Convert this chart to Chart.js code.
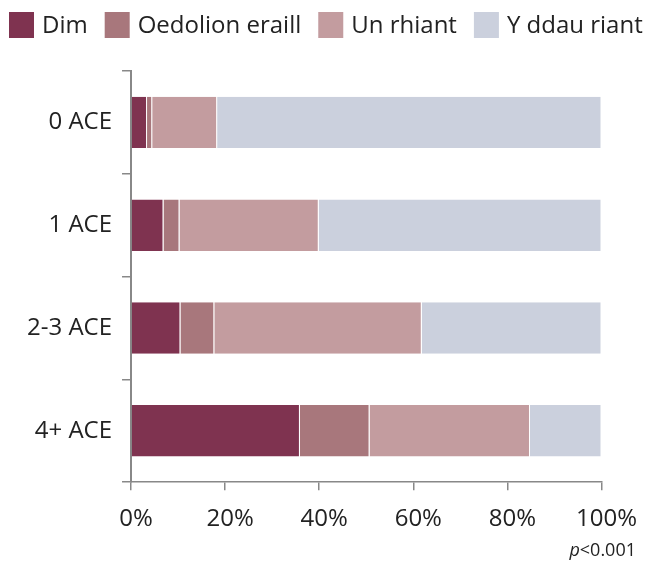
<!DOCTYPE html>
<html>
<head>
<meta charset="utf-8">
<script src="https://cdn.jsdelivr.net/npm/chart.js@4/dist/chart.umd.min.js"></script>
<style>
html,body{margin:0;padding:0;background:#fff;}
#wrap{width:647px;height:563px;}
</style>
</head>
<body>
<div id="wrap"><canvas id="c" width="647" height="563"></canvas></div>
<script>
const categories = ["0 ACE", "1 ACE", "2-3 ACE", "4+ ACE"];
const seriesNames = ["Dim", "Oedolion eraill", "Un rhiant", "Y ddau riant"];
const dim = [3.4, 6.9, 10.5, 35.9];
const oedolion = [1.1, 3.4, 7.2, 14.8];
const unRhiant = [13.8, 29.6, 44.1, 34.1];
const ddauRiant = [81.7, 60.1, 38.2, 15.2];
const xTicks = [0, 20, 40, 60, 80, 100];
const colors = ["#7f3350", "#a8777c", "#c39c9f", "#cbd0dd"];
const pNote = "<0.001";

const FONT = "'Open Sans', 'Noto Sans', sans-serif";
const values = [dim, oedolion, unRhiant, ddauRiant];

const legendPlugin = {
  id: 'customLegend',
  afterDraw(chart) {
    const ctx = chart.ctx;
    ctx.save();
    ctx.font = "24px " + FONT;
    ctx.textBaseline = 'middle';
    const box = 25, boxH = 26, gapText = 8, gapItem = 17;
    let x = 9;
    const top = 12;
    seriesNames.forEach((name, i) => {
      ctx.fillStyle = colors[i];
      ctx.fillRect(x, top, box, boxH);
      x += box + gapText;
      ctx.fillStyle = '#222';
      ctx.fillText(name, x, top + boxH / 2 + 1);
      x += ctx.measureText(name).width + gapItem;
    });
    ctx.restore();
  }
};

const pPlugin = {
  id: 'pnote',
  afterDraw(chart) {
    const ctx = chart.ctx;
    ctx.save();
    ctx.fillStyle = '#222';
    ctx.textBaseline = 'alphabetic';
    ctx.font = "18px " + FONT;
    const w2 = ctx.measureText(pNote).width;
    ctx.font = "italic 18px " + FONT;
    const w1 = ctx.measureText('p').width;
    const right = 636;
    const y = 556;
    ctx.fillText('p', right - w2 - w1, y);
    ctx.font = "18px " + FONT;
    ctx.fillText(pNote, right - w2, y);
    ctx.restore();
  }
};

new Chart(document.getElementById('c'), {
  type: 'bar',
  data: {
    labels: categories,
    datasets: values.map((v, i) => ({
      label: seriesNames[i],
      data: v,
      backgroundColor: colors[i],
      borderColor: 'rgba(255,255,255,0.55)',
      borderWidth: {left: 0, right: 1, top: 0, bottom: 0},
      borderSkipped: false,
      categoryPercentage: 0.5,
      barPercentage: 1.0
    }))
  },
  options: {
    indexAxis: 'y',
    responsive: false,
    animation: false,
    layout: { padding: { left: 17, right: 40, top: 71, bottom: 14 } },
    plugins: {
      tooltip: { enabled: false },
      legend: { display: false }
    },
    scales: {
      x: {
        stacked: true,
        min: 0,
        max: 100,
        afterBuildTicks(axis) { axis.ticks = xTicks.map(v => ({ value: v })); },
        ticks: {
          callback: v => v + '%',
          color: '#222',
          font: { family: FONT, size: 24 },
          padding: 15,
          labelOffset: 5,
          maxRotation: 0
        },
        grid: {
          drawOnChartArea: false,
          drawTicks: true,
          tickLength: 8,
          color: '#888',
          lineWidth: 1.5
        },
        border: { display: true, color: '#888', width: 1.5 }
      },
      y: {
        stacked: true,
        ticks: {
          color: '#222',
          font: { family: FONT, size: 24 },
          padding: 10
        },
        grid: {
          offset: true,
          drawOnChartArea: false,
          drawTicks: true,
          tickLength: 9,
          color: '#888',
          lineWidth: 1.5
        },
        border: { display: true, color: '#888', width: 2 }
      }
    }
  },
  plugins: [legendPlugin, pPlugin]
});
</script>
</body>
</html>
